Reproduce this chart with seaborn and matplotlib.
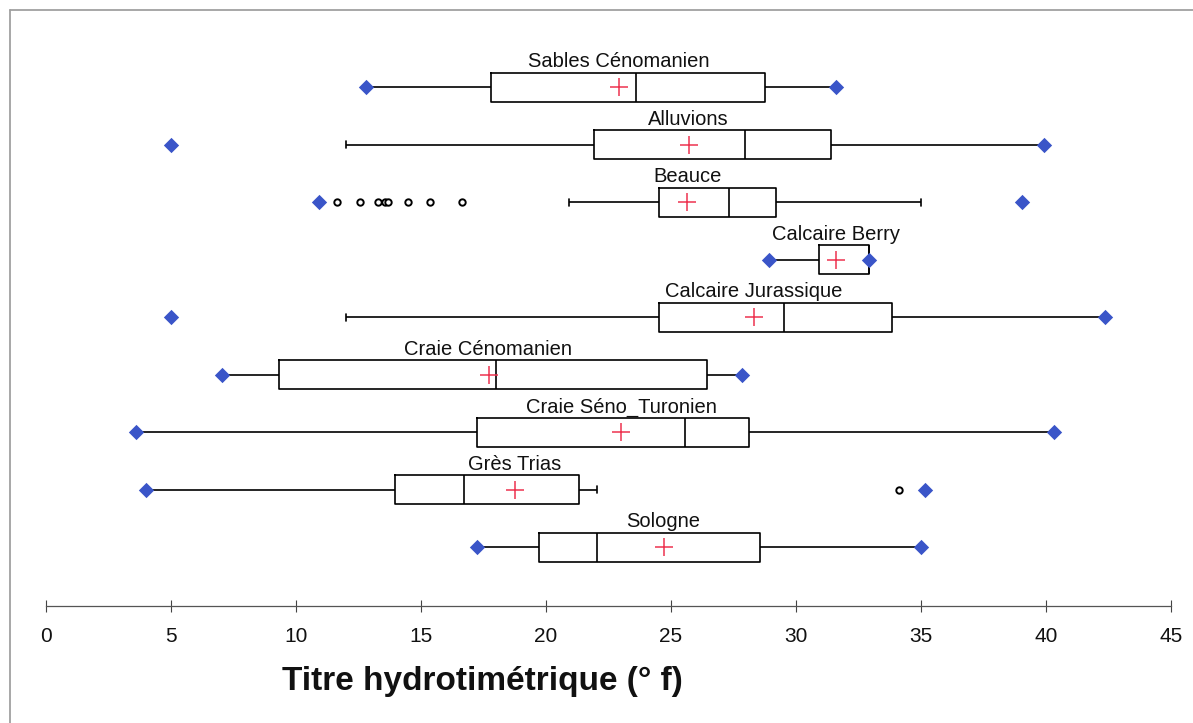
import numpy as np
import pandas as pd
import matplotlib
matplotlib.use("Agg")
import matplotlib.pyplot as plt
from matplotlib.lines import Line2D
import seaborn as sns

# Aquifers, top to bottom
aquifers = ["Sables Cénomanien", "Alluvions", "Beauce", "Calcaire Berry",
            "Calcaire Jurassique", "Craie Cénomanien", "Craie Séno_Turonien",
            "Grès Trias", "Sologne"]

# Box-plot summary per aquifer (°f)
whisker_low  = [12.78, 12.0, 20.9, 28.9, 12.0, 7.05, 3.6, 4.0, 17.25]
q1           = [17.78, 21.9, 24.5, 30.9, 24.5, 9.3, 17.25, 13.95, 19.7]
median       = [23.6, 27.95, 27.3, 32.9, 29.5, 18.0, 25.55, 16.7, 22.05]
q3           = [28.77, 31.4, 29.2, 32.9, 33.85, 26.45, 28.1, 21.3, 28.55]
whisker_high = [31.6, 39.9, 35.0, 32.9, 42.35, 27.85, 40.3, 22.05, 35.0]

# Extremes and means
minimum = [12.78, 5.0, 10.9, 28.9, 5.0, 7.05, 3.6, 4.0, 17.25]
maximum = [31.6, 39.9, 39.05, 32.9, 42.35, 27.85, 40.3, 35.15, 35.0]
mean    = [22.9, 25.7, 25.65, 31.6, 28.3, 17.7, 23.0, 18.75, 24.7]

# Outlying observations
outlier_aquifer = ["Beauce"] * 8 + ["Grès Trias"]
outlier_value   = [11.65, 12.56, 13.27, 13.56, 13.69, 14.47, 15.36, 16.65, 34.1]

x_ticks = [0, 5, 10, 15, 20, 25, 30, 35, 40, 45]
x_label = "Titre hydrotimétrique (° f)"

# Five-point sample per aquifer: its quartiles reproduce the summary exactly
box_df = pd.DataFrame({
    "aquifer": np.repeat(aquifers, 5),
    "value": np.column_stack([whisker_low, q1, median, q3, whisker_high]).ravel(),
})
ext_df = pd.DataFrame({"aquifer": aquifers * 2, "value": minimum + maximum})
mean_df = pd.DataFrame({"aquifer": aquifers, "value": mean})
out_df = pd.DataFrame({"aquifer": outlier_aquifer, "value": outlier_value})

sns.set_theme(style="white")
plt.rcParams["font.family"] = ["Liberation Sans", "DejaVu Sans"]

W, H = 1193, 723
fig = plt.figure(figsize=(W / 100, H / 100), dpi=100)
ax = fig.add_axes([46 / W, 1 - 605.7 / H, (1171 - 46) / W, (605.7 - 30) / H])

sns.boxplot(data=box_df, x="value", y="aquifer", order=aquifers, orient="h",
            whis=np.inf, width=0.5, fill=False, color="black", linewidth=1.2,
            showfliers=False, capwidths=0.12, ax=ax)

sns.stripplot(data=out_df, x="value", y="aquifer", order=aquifers, jitter=False,
              marker="o", size=4.6, color="white", edgecolor="black",
              linewidth=1.4, ax=ax, zorder=4)
sns.stripplot(data=ext_df, x="value", y="aquifer", order=aquifers, jitter=False,
              marker="D", size=7.8, color="#3a55c8", linewidth=0, ax=ax, zorder=5)
sns.stripplot(data=mean_df, x="value", y="aquifer", order=aquifers, jitter=False,
              marker="+", size=13, color="#ee3350", linewidth=1.1, ax=ax, zorder=5)

# Aquifer names centred on the mean, just above each box
for i, (name, m) in enumerate(zip(aquifers, mean)):
    ax.text(m, i - 0.345, name, ha="center", va="baseline", fontsize=14.5,
            color="#111111", zorder=6)

ax.set_xlim(0, 45)
ax.set_ylim(9.016, -0.997)
ax.set_xticks(x_ticks)
ax.set_xticklabels([str(t) for t in x_ticks])
ax.set_yticks([])
ax.set_ylabel("")
ax.set_xlabel(x_label, fontsize=24, fontweight="bold", color="#111111")
ax.xaxis.set_label_coords(0.3876, -0.105)
ax.tick_params(axis="x", direction="inout", length=8, width=0.8, color="#444444",
               labelsize=15, pad=11, labelcolor="#111111", bottom=True)
sns.despine(ax=ax, left=True, top=True, right=True)
ax.spines["bottom"].set_color("#555555")
ax.spines["bottom"].set_linewidth(0.9)

# Outer frame (top and left edges)
fig.add_artist(Line2D([10 / W, 10 / W], [0, 1 - 10 / H], transform=fig.transFigure,
                      color="#a0a0a0", lw=1.3))
fig.add_artist(Line2D([10 / W, 1], [1 - 10 / H, 1 - 10 / H], transform=fig.transFigure,
                      color="#a0a0a0", lw=1.3))

fig.savefig("out.png", dpi=100)
